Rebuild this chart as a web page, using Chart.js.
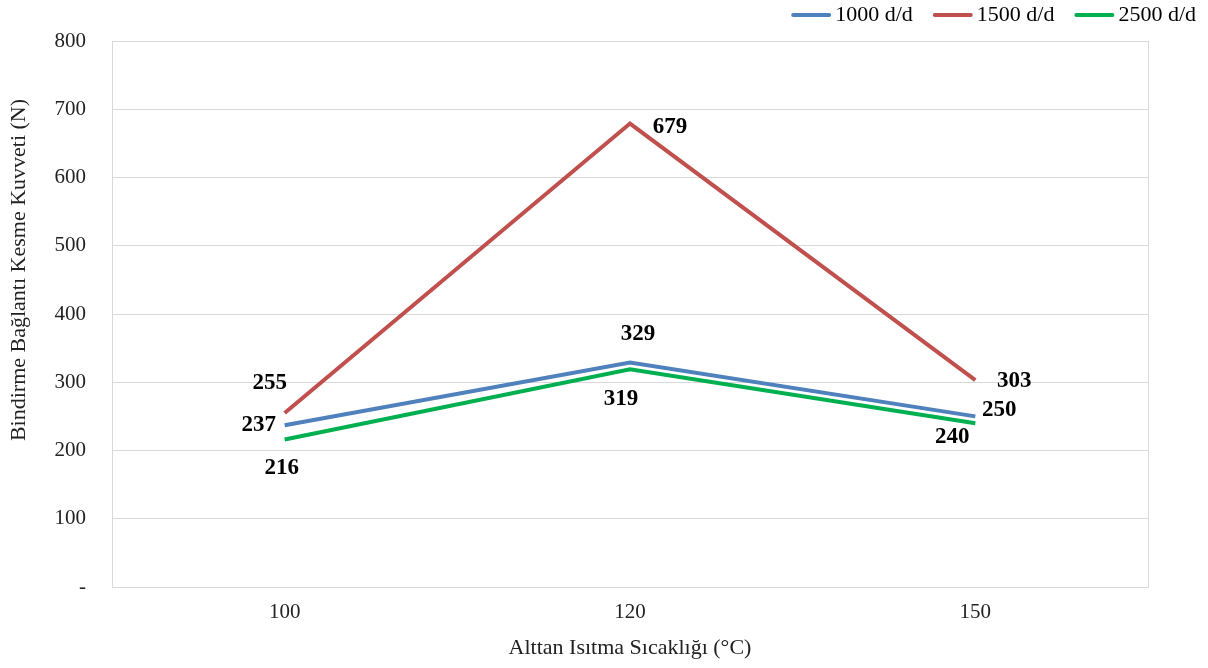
<!DOCTYPE html>
<html>
<head>
<meta charset="utf-8">
<script src="https://cdn.jsdelivr.net/npm/chart.js@4/dist/chart.umd.min.js"></script>
<style>
  html, body { margin: 0; padding: 0; background: #fff; }
  #wrap { width: 1208px; height: 668px; }
</style>
</head>
<body>
<div id="wrap"><canvas id="chart" width="1208" height="668"></canvas></div>
<script>
// chart data
const categories = ['100', '120', '150'];
const series1000 = [237, 329, 250];
const series1500 = [255, 679, 303];
const series2500 = [216, 319, 240];
const seriesNames = ['1000 d/d', '1500 d/d', '2500 d/d'];
const yTicks = [0, 100, 200, 300, 400, 500, 600, 700, 800];
const yTitle = 'Bindirme Bağlantı Kesme Kuvveti (N)';
const xTitle = 'Alttan Isıtma Sıcaklığı (°C)';

const colors = ['#4f81bd', '#c0504d', '#00b050'];
const serif = '"Liberation Serif", "Times New Roman", serif';

// where each value label sits relative to its point (dx, dy)
const labelOffsets = [
    [[-26, 0], [8, -28], [24, -6]],
    [[-15, -30], [40, 3], [39, 1]],
    [[-3, 28], [-9, 30], [-23, 14]]
];

// frame around the plot area, rotated y title, legend in the top right corner
const framePlugin = {
    id: 'frame',
    beforeDatasetsDraw(chart) {
        const { ctx, chartArea } = chart;
        ctx.save();
        ctx.strokeStyle = '#d9d9d9';
        ctx.lineWidth = 1;
        ctx.strokeRect(chartArea.left + 0.5, chartArea.top + 0.5,
            chartArea.right - chartArea.left, chartArea.bottom - chartArea.top);
        ctx.restore();
    },
    afterDraw(chart) {
        const ctx = chart.ctx;
        ctx.save();
        ctx.translate(19, 270);
        ctx.rotate(-Math.PI / 2);
        ctx.font = '22px ' + serif;
        ctx.fillStyle = '#222';
        ctx.textAlign = 'center';
        ctx.textBaseline = 'middle';
        ctx.fillText(yTitle, 0, 0);
        ctx.restore();

        // legend: line sample + name, right aligned
        ctx.save();
        ctx.font = '22px ' + serif;
        ctx.textBaseline = 'middle';
        ctx.textAlign = 'left';
        const lineLen = 40, gap = 4, itemGap = 20, y = 15;
        let x = 1196;
        for (let i = chart.data.datasets.length - 1; i >= 0; i--) {
            const ds = chart.data.datasets[i];
            const w = ctx.measureText(ds.label).width;
            x -= w;
            ctx.fillStyle = '#000';
            ctx.fillText(ds.label, x, y);
            x -= gap;
            ctx.strokeStyle = ds.borderColor;
            ctx.lineWidth = 4;
            ctx.lineCap = 'round';
            ctx.beginPath();
            ctx.moveTo(x - lineLen + 2, y);
            ctx.lineTo(x - 2, y);
            ctx.stroke();
            x -= lineLen + itemGap;
        }
        ctx.restore();
    }
};

// bold value labels next to the points
const valueLabels = {
    id: 'valueLabels',
    afterDatasetsDraw(chart) {
        const ctx = chart.ctx;
        ctx.save();
        ctx.font = 'bold 23px ' + serif;
        ctx.fillStyle = '#000';
        ctx.textAlign = 'center';
        ctx.textBaseline = 'middle';
        chart.data.datasets.forEach((ds, i) => {
            const meta = chart.getDatasetMeta(i);
            meta.data.forEach((pt, j) => {
                const off = labelOffsets[i][j];
                ctx.fillText(String(ds.data[j]), pt.x + off[0], pt.y + off[1]);
            });
        });
        ctx.restore();
    }
};

const dataSets = [series1000, series1500, series2500].map((values, i) => ({
    label: seriesNames[i],
    data: values,
    borderColor: colors[i],
    backgroundColor: colors[i],
    borderWidth: 4,
    pointRadius: 0,
    pointHoverRadius: 0,
    tension: 0,
    fill: false
}));

new Chart(document.getElementById('chart'), {
    type: 'line',
    data: { labels: categories, datasets: dataSets },
    options: {
        responsive: false,
        animation: false,
        events: [],
        layout: { padding: { left: 0, right: 0, top: 41, bottom: 0 } },
        plugins: {
            legend: { display: false },
            tooltip: { enabled: false }
        },
        scales: {
            x: {
                offset: true,
                grid: { display: false },
                border: { display: false },
                ticks: {
                    color: '#222',
                    padding: 5,
                    font: { family: serif, size: 21 }
                },
                title: {
                    display: true,
                    text: xTitle,
                    color: '#222',
                    padding: { top: 4, bottom: 7 },
                    font: { family: serif, size: 22 }
                },
                afterFit(scale) { scale.height = 81; }
            },
            y: {
                min: 0,
                max: 800,
                afterBuildTicks(scale) {
                    scale.ticks = yTicks.map(v => ({ value: v }));
                },
                grid: { color: '#d9d9d9', drawTicks: false },
                border: { display: false },
                ticks: {
                    color: '#222',
                    padding: 26,
                    font: { family: serif, size: 21 },
                    callback: v => (v === 0 ? '-' : v)
                },
                afterFit(scale) { scale.width = 112; }
            },
            // empty right-hand gutter so the plot ends where the reference does
            yGutter: {
                type: 'linear',
                position: 'right',
                display: true,
                grid: { display: false },
                border: { display: false },
                ticks: { display: false },
                afterFit(scale) { scale.width = 60; }
            }
        }
    },
    plugins: [framePlugin, valueLabels]
});
</script>
</body>
</html>
